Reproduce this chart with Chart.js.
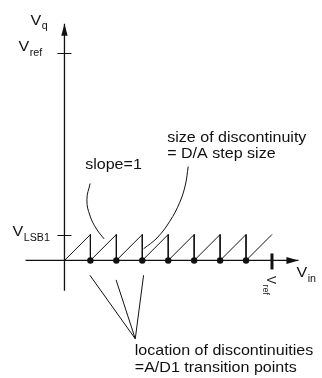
<!DOCTYPE html>
<html>
<head>
<meta charset="utf-8">
<script src="https://cdn.jsdelivr.net/npm/chart.js@4/dist/chart.umd.min.js"></script>
<style>
    html, body { margin: 0; padding: 0; background: #fff; }
    .wrap { width: 322px; height: 378px; position: relative; }
</style>
</head>
<body>
<div class="wrap"><canvas id="chart"></canvas></div>
<script>
    // values in LSB units (x = V_in, y = V_q)
    const sawX = [0, 1, 1, 2, 2, 3, 3, 4, 4, 5, 5, 6, 6, 7, 7, 8];
    const sawY = [0, 1, 0, 1, 0, 1, 0, 1, 0, 1, 0, 1, 0, 1, 0, 1];
    const transitionPoints = [1, 2, 3, 4, 5, 6, 7];
    const vLsb1 = 1;
    const vRef = 8;
    const xAxisRange = [-1.5, 9.02];
    const yAxisRange = [-1.17, 9.13];

    // leader curves
    const slopeLeaderX = [0.99, 0.865, 0.99, 1.24, 1.53];
    const slopeLeaderY = [2.97, 2.34, 1.71, 1.21, 0.83];
    const stepLeaderX = [4.77, 4.66, 4.44, 4.06, 3.57, 3.05];
    const stepLeaderY = [3.62, 2.91, 2.23, 1.51, 0.87, 0.45];
    const locLeaderX = [0.98, 1.99, 3.05];
    const locLeaderY = [-0.57, -0.75, -0.57];
    const locHub = { x: 2.73, y: -3.02 };

    const INK = '#111';
    const FONT = '"Liberation Sans", Arial, sans-serif';

    function pts(xs, ys) {
        return xs.map((v, i) => ({ x: v, y: ys[i] }));
    }

    function line(data, opts = {}) {
        return Object.assign({
            data,
            showLine: true,
            borderColor: INK,
            borderWidth: 1,
            pointRadius: 0,
            tension: 0,
            clip: false,
        }, opts);
    }

    const datasets = [
        line([{ x: xAxisRange[0], y: 0 }, { x: xAxisRange[1], y: 0 }], { borderWidth: 1.3 }),
        line([{ x: 0, y: yAxisRange[0] }, { x: 0, y: yAxisRange[1] }], { borderWidth: 1.3 }),
        line(pts(sawX, sawY)),
        {
            data: transitionPoints.map((t) => ({ x: t, y: 0 })),
            pointRadius: 3.2,
            pointBackgroundColor: INK,
            pointBorderWidth: 0,
            showLine: false,
            clip: false,
        },
        line(pts(slopeLeaderX, slopeLeaderY), { tension: 0.45 }),
        line(pts(stepLeaderX, stepLeaderY), { tension: 0.4 }),
    ];
    locLeaderX.forEach((lx, i) => {
        datasets.push(line([{ x: lx, y: locLeaderY[i] }, locHub]));
    });

    function text(ctx, main, sub, px, py, size) {
        ctx.save();
        ctx.translate(px, py);
        ctx.scale(1.07, 1);
        ctx.fillStyle = INK;
        ctx.textBaseline = 'alphabetic';
        ctx.font = size + 'px ' + FONT;
        ctx.fillText(main, 0, 0);
        if (sub) {
            const w = ctx.measureText(main).width;
            ctx.font = '10px ' + FONT;
            ctx.fillText(sub, w + 0.5, 4.5);
        }
        ctx.restore();
    }

    const sketch = {
        id: 'sketch',
        afterDatasetsDraw(chart) {
            const { ctx, scales: { x, y } } = chart;
            const x0 = x.getPixelForValue(0);
            const y0 = y.getPixelForValue(0);
            ctx.save();
            ctx.strokeStyle = INK;
            ctx.fillStyle = INK;

            // arrow heads
            const xt = x.getPixelForValue(xAxisRange[1]);
            ctx.beginPath();
            ctx.moveTo(xt, y0);
            ctx.lineTo(xt - 12, y0 - 3.5);
            ctx.lineTo(xt - 12, y0 + 3.5);
            ctx.closePath();
            ctx.fill();
            const yt = y.getPixelForValue(yAxisRange[1]);
            ctx.beginPath();
            ctx.moveTo(x0, yt);
            ctx.lineTo(x0 - 3.2, yt + 12);
            ctx.lineTo(x0 + 3.2, yt + 12);
            ctx.closePath();
            ctx.fill();

            // y ticks
            ctx.lineWidth = 1;
            [vLsb1, vRef].forEach((v) => {
                const py = Math.round(y.getPixelForValue(v)) + 0.5;
                ctx.beginPath();
                ctx.moveTo(x0 - 7, py);
                ctx.lineTo(x0 + 7, py);
                ctx.stroke();
            });
            // V_ref tick on x axis
            const xr = x.getPixelForValue(vRef);
            ctx.lineWidth = 3;
            ctx.beginPath();
            ctx.moveTo(xr, y0 - 7);
            ctx.lineTo(xr, y0 + 9);
            ctx.stroke();

            // axis labels
            text(ctx, 'V', 'q', x0 - 34, yt + 1, 15);
            text(ctx, 'V', 'ref', x0 - 46, y.getPixelForValue(vRef) - 1.5, 15);
            text(ctx, 'V', 'LSB1', x0 - 52, y.getPixelForValue(vLsb1) + 1.5, 15);
            text(ctx, 'V', 'in', xt - 2, y0 + 17, 15);

            // rotated V_ref under the x axis
            ctx.save();
            ctx.translate(xr - 5, y0 + 15.5);
            ctx.rotate(Math.PI / 2);
            ctx.font = '12px ' + FONT;
            ctx.fillText('V', 0, 0);
            const vw = ctx.measureText('V').width;
            ctx.font = '9px ' + FONT;
            ctx.fillText('ref', vw + 0.5, 4);
            ctx.restore();

            // annotations
            const sx = x.getPixelForValue(slopeLeaderX[0]);
            const sy = y.getPixelForValue(slopeLeaderY[0]);
            text(ctx, 'slope=1', null, sx - 5, sy - 14, 15);
            const dx = x.getPixelForValue(stepLeaderX[0]);
            const dy = y.getPixelForValue(stepLeaderY[0]);
            text(ctx, 'size of discontinuity', null, dx - 21, dy - 25, 15);
            text(ctx, '= D/A step size', null, dx - 21, dy - 9, 15);
            const hx = x.getPixelForValue(locHub.x);
            const hy = y.getPixelForValue(locHub.y);
            text(ctx, 'location of discontinuities', null, hx - 0.5, hy + 16, 15);
            text(ctx, '=A/D1 transition points', null, hx - 0.5, hy + 33, 15);
            ctx.restore();
        },
    };

    new Chart(document.getElementById('chart'), {
        type: 'scatter',
        data: { datasets },
        options: {
            responsive: true,
            maintainAspectRatio: false,
            animation: false,
            layout: { padding: 0 },
            plugins: { legend: { display: false }, tooltip: { enabled: false } },
            scales: {
                x: { type: 'linear', display: false, min: -2.331, max: 9.774 },
                y: { type: 'linear', display: false, min: -4.377, max: 9.887 },
            },
        },
        plugins: [sketch],
    });
</script>
</body>
</html>
